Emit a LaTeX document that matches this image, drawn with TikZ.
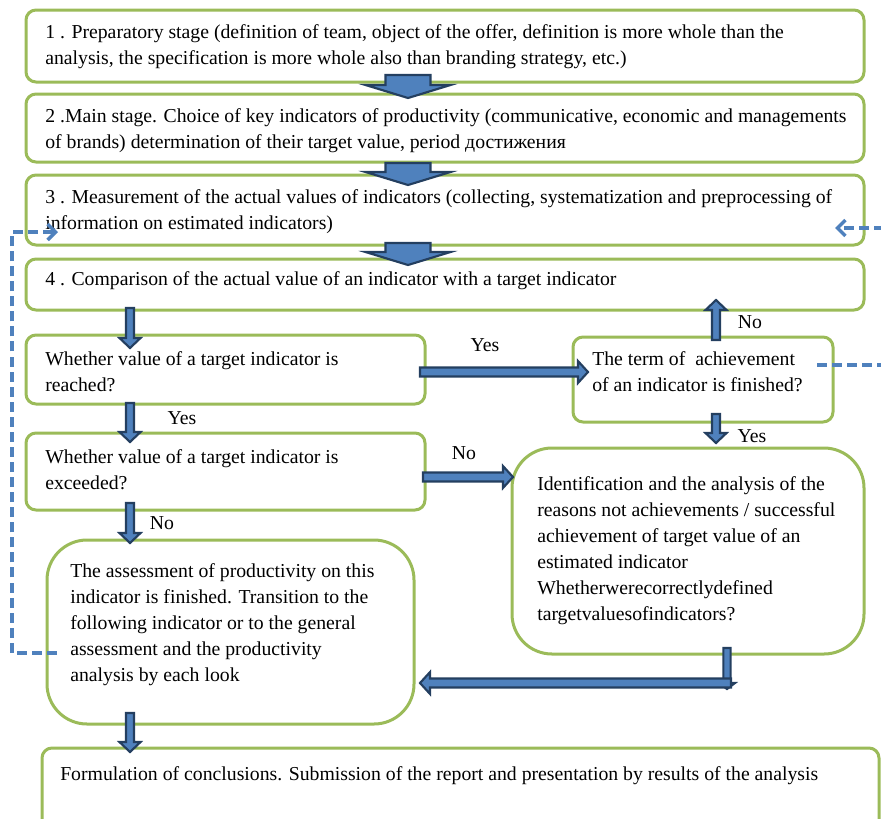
\documentclass[tikz,border=0pt]{standalone}
\usepackage{fontspec}
\setmainfont{Liberation Serif}
\usetikzlibrary{calc,arrows.meta}
\definecolor{bgreen}{HTML}{9BBB59}
\definecolor{afill}{HTML}{4F81BD}
\definecolor{aline}{HTML}{243F60}
\definecolor{dblue}{HTML}{4F81BD}
\newcommand\fs{\fontsize{14.8pt}{19.5pt}\selectfont}
\newcommand\boxnode[6]{%
  \node[box, rounded corners=#6, minimum width={(#4-#2)*0.75pt}, minimum height={(#5-#3)*0.75pt}] (#1) at ({(#2+#4)/2},{(#3+#5)/2}) {};}
% block arrow: start, tip, shaft half width, head half width, head length
\newcommand\barrow[5]{%
  \coordinate (bh) at ($(#2)!#5!(#1)$);
  \draw[blockarrow] ($(#1)!#3!90:(#2)$) -- ($(bh)!#3!90:(#2)$) -- ($(bh)!#4!90:(#2)$) -- (#2)
     -- ($(bh)!#4!-90:(#2)$) -- ($(bh)!#3!-90:(#2)$) -- ($(#1)!#3!-90:(#2)$) -- cycle;}
\tikzset{
  box/.style={draw=bgreen, line width=2.25pt, fill=white, inner sep=0pt},
  txt/.style={anchor=north west, inner sep=0pt, align=left, font=\fs},
  lbl/.style={inner sep=0pt, font=\fs},
  blockarrow/.style={draw=aline, fill=afill, line width=1.6pt, line join=miter},
  dashline/.style={draw=dblue, line width=2.6pt, dash pattern=on 7.5pt off 3.8pt},
}
\begin{document}
\begin{tikzpicture}[x=0.75pt,y=-0.75pt]
\useasboundingbox (0,0) rectangle (881,818);
\clip (0,0) rectangle (881,818);
% boxes
\boxnode{b1}{26}{10}{864}{82}{7.5pt}
\boxnode{b2}{26}{94}{864}{162}{7.5pt}
\boxnode{b3}{26}{175}{864}{245}{7.5pt}
\boxnode{b4}{26}{259}{864}{310}{7.5pt}
\boxnode{bA}{26}{335}{425}{404}{7.5pt}
\boxnode{bB}{26}{433}{425}{510}{7.5pt}
\boxnode{bC}{573}{337}{833}{422}{7.5pt}
\boxnode{bD}{512}{448}{864}{654}{30pt}
\boxnode{bE}{47}{540}{414}{724}{30pt}
\boxnode{bF}{42}{748}{879}{840}{7.5pt}
% texts
\node[txt] (t1) at (45,20) {\strut 1 . Preparatory stage (definition of team, object of the offer, definition is more whole than the\\\strut analysis, the specification is more whole also than branding strategy, etc.)};
\node[txt] (t2) at (45,104) {\strut 2 .Main stage. Choice of key indicators of productivity (communicative, economic and managements\\\strut of brands) determination of their target value, period достижения};
\node[txt] (t3) at (45,185) {\strut 3 . Measurement of the actual values of indicators (collecting, systematization and preprocessing of\\\strut information on estimated indicators)};
\node[txt] (t4) at (45,267) {\strut 4 . Comparison of the actual value of an indicator with a target indicator};
\node[txt] (tA) at (45,347) {\strut Whether value of a target indicator is\\\strut reached?};
\node[txt] (tB) at (45,445) {\strut Whether value of a target indicator is\\\strut exceeded?};
\node[txt] (tC) at (592,347) {\strut The term of \ achievement\\\strut of an indicator is finished?};
\node[txt] (tD) at (537,472) {\strut Identification and the analysis of the\\\strut reasons not achievements / successful\\\strut achievement of target value of an\\\strut estimated indicator\\\strut Whetherwerecorrectlydefined\\\strut targetvaluesofindicators?};
\node[txt] (tE) at (70,559) {\strut The assessment of productivity on this\\\strut indicator is finished. Transition to the\\\strut following indicator or to the general\\\strut assessment and the productivity\\\strut analysis by each look};
\node[txt] (tF) at (60,762) {\strut Formulation of conclusions. Submission of the report and presentation by results of the analysis};
% labels
\node[lbl] (l1) at (485,345) {Yes};
\node[lbl] (l2) at (182,418) {Yes};
\node[lbl] (l3) at (464,453) {No};
\node[lbl] (l4) at (162,523) {No};
\node[lbl] (l5) at (750,322) {No};
\node[lbl] (l6) at (752,436) {Yes};
% arrow end points
\coordinate (s12) at (408,75);  \coordinate (e12) at (408,98);
\coordinate (s23) at (408,163); \coordinate (e23) at (408,185);
\coordinate (s34) at (408,243); \coordinate (e34) at (408,265);
\coordinate (s4A) at (130,308); \coordinate (e4A) at (130,348);
\coordinate (sAB) at (130,403); \coordinate (eAB) at (130,442);
\coordinate (sBE) at (130,503); \coordinate (eBE) at (130,543);
\coordinate (sEF) at (130,713); \coordinate (eEF) at (130,752);
\coordinate (sAC) at (420,372); \coordinate (eAC) at (588,372);
\coordinate (sBD) at (423,477); \coordinate (eBD) at (513,477);
\coordinate (sC4) at (716,340); \coordinate (eC4) at (716,300);
\coordinate (sCD) at (716,414); \coordinate (eCD) at (716,443);
\coordinate (sDv) at (727,648); \coordinate (eDv) at (727,689);
\coordinate (sDE) at (731,683); \coordinate (eDE) at (420,683);
% block arrows
\barrow{s12}{e12}{16.9pt}{31.9pt}{9.75pt}
\barrow{s23}{e23}{16.9pt}{31.9pt}{9.75pt}
\barrow{s34}{e34}{16.9pt}{31.9pt}{9.75pt}
\barrow{s4A}{e4A}{3pt}{7.9pt}{7.5pt}
\barrow{sAB}{eAB}{3pt}{7.9pt}{7.5pt}
\barrow{sBE}{eBE}{3pt}{7.9pt}{7.5pt}
\barrow{sEF}{eEF}{3pt}{7.9pt}{7.5pt}
\barrow{sAC}{eAC}{3.4pt}{8.2pt}{7.5pt}
\barrow{sBD}{eBD}{3.4pt}{8.2pt}{7.5pt}
\barrow{sC4}{eC4}{3pt}{7.9pt}{7.5pt}
\barrow{sCD}{eCD}{3pt}{7.9pt}{7.5pt}
\barrow{sDv}{eDv}{2.7pt}{6pt}{4.5pt}
\barrow{sDE}{eDE}{3.4pt}{8.2pt}{7.5pt}
% dashed feedback lines
\coordinate (dl0) at (57,653); \coordinate (dl1) at (12,653);
\coordinate (dl2) at (12,232);  \coordinate (dl3) at (58,232);
\draw[dashline, -{Straight Barb[length=6pt,width=12pt]}] (dl0) -- (dl1) -- (dl2) -- (dl3);
\coordinate (dr0) at (817,365); \coordinate (dr1) at (884,365);
\coordinate (dr2) at (884,228); \coordinate (dr3) at (835,228);
\draw[dashline] (dr0) -- (dr1);
\draw[dashline, -{Straight Barb[length=6pt,width=12pt]}] (dr2) -- (dr3);
\end{tikzpicture}
\end{document}
